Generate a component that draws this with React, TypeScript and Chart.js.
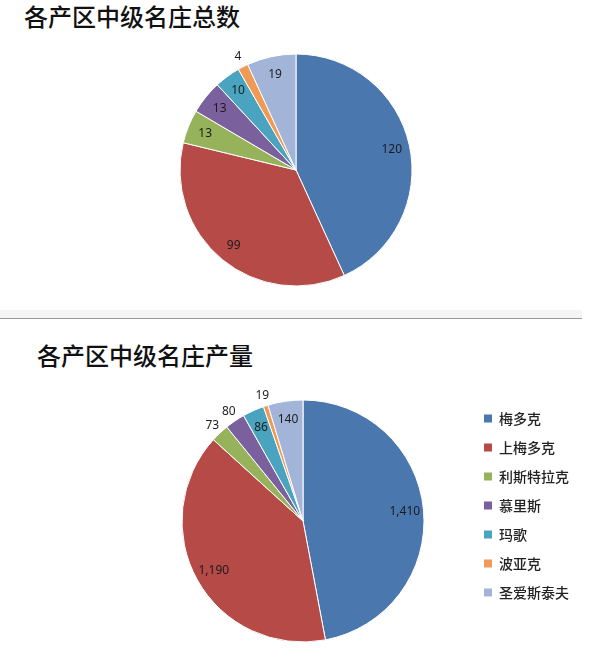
import React, { useEffect, useRef } from "react";
import { Chart, registerables } from "chart.js";

Chart.register(...registerables);

// ---- data ----
const regions = ["梅多克", "上梅多克", "利斯特拉克", "慕里斯", "玛歌", "波亚克", "圣爱斯泰夫"];
const estateCounts = [120, 99, 13, 13, 10, 4, 19];
const estateOutput = [1410, 1190, 73, 80, 86, 19, 140];
const sliceColors = ["#4a78ae", "#b54a47", "#96b25a", "#7b609e", "#4aa3bf", "#f19a55", "#a2b5d9"];
const titleCount = "各产区中级名庄总数";
const titleOutput = "各产区中级名庄产量";

const sliceLabels = {
  id: "sliceLabels",
  afterDatasetsDraw(chart: any) {
    const ctx = chart.ctx;
    const vals = chart.data.datasets[0].data as number[];
    const total = vals.reduce((a, b) => a + b, 0);
    const meta = chart.getDatasetMeta(0);
    ctx.save();
    ctx.font = "12px 'Noto Sans'";
    ctx.fillStyle = "#1c1c1c";
    ctx.textAlign = "center";
    ctx.textBaseline = "middle";
    meta.data.forEach((arc: any, i: number) => {
      const p = arc.getProps(["x", "y", "startAngle", "endAngle", "outerRadius"], true);
      const mid = (p.startAngle + p.endAngle) / 2;
      const small = vals[i] / total < 0.028;
      const r = small ? p.outerRadius + 11 : p.outerRadius * 0.845;
      ctx.fillText(
        vals[i].toLocaleString("en-US"),
        p.x + Math.cos(mid) * r,
        p.y + Math.sin(mid) * r
      );
    });
    ctx.restore();
  },
};

type PieProps = {
  values: number[];
  top: number;
  height: number;
  padding: { left: number; right: number; top: number; bottom: number };
  showLegend: boolean;
};

function PieChart({ values, top, height, padding, showLegend }: PieProps) {
  const ref = useRef<HTMLCanvasElement | null>(null);
  useEffect(() => {
    if (!ref.current) return;
    const chart = new Chart(ref.current, {
      type: "pie",
      data: {
        labels: regions,
        datasets: [
          {
            data: values,
            backgroundColor: sliceColors,
            borderColor: "#ffffff",
            borderWidth: 1,
          },
        ],
      },
      options: {
        responsive: false,
        animation: false,
        devicePixelRatio: 1,
        layout: { padding },
        plugins: {
          tooltip: { enabled: false },
          legend: {
            display: showLegend,
            position: "right",
            align: "start",
            maxWidth: 100,
            title: {
              display: true,
              text: "",
              font: { size: 1, lineHeight: 1 },
              padding: { top: -2, bottom: -2 },
            },
            labels: {
              boxWidth: 8,
              boxHeight: 8,
              padding: 15,
              color: "#222222",
              font: { family: "'Noto Sans CJK SC'", size: 14, weight: "500" as any },
              generateLabels: (c: any) =>
                (Chart as any).overrides.pie.plugins.legend.labels
                  .generateLabels(c)
                  .map((l: any) => ({ ...l, lineWidth: 0 })),
            },
          },
        },
      },
      plugins: [sliceLabels],
    });
    return () => chart.destroy();
  }, []);
  return (
    <canvas
      ref={ref}
      width={591}
      height={height}
      style={{ position: "absolute", left: 0, top, width: 591, height }}
    />
  );
}

const titleStyle: React.CSSProperties = {
  position: "absolute",
  fontFamily: "'Noto Sans CJK SC'",
  fontSize: 24,
  fontWeight: 500,
  lineHeight: "24px",
  color: "#111",
  whiteSpace: "nowrap",
  letterSpacing: 0,
};

export default function App() {
  return (
    <div
      style={{
        position: "absolute",
        left: 0,
        top: 0,
        width: 591,
        height: 660,
        background: "#ffffff",
        overflow: "hidden",
      }}
    >
      <div style={{ ...titleStyle, left: 24, top: 4 }}>{titleCount}</div>
      <PieChart
        values={estateCounts}
        top={30}
        height={280}
        padding={{ left: 179.5, right: 178.5, top: 23.5, bottom: 23.5 }}
        showLegend={false}
      />
      <div style={{ position: "absolute", left: 0, top: 310, width: 582, height: 8, background: "#f5f5f5" }} />
      <div style={{ position: "absolute", left: 0, top: 318, width: 582, height: 1, background: "#9a9a9a" }} />
      <div style={{ ...titleStyle, left: 37, top: 343 }}>{titleOutput}</div>
      <PieChart
        values={estateOutput}
        top={380}
        height={280}
        padding={{ left: 137, right: 22, top: 19.5, bottom: 17.5 }}
        showLegend={true}
      />
    </div>
  );
}
